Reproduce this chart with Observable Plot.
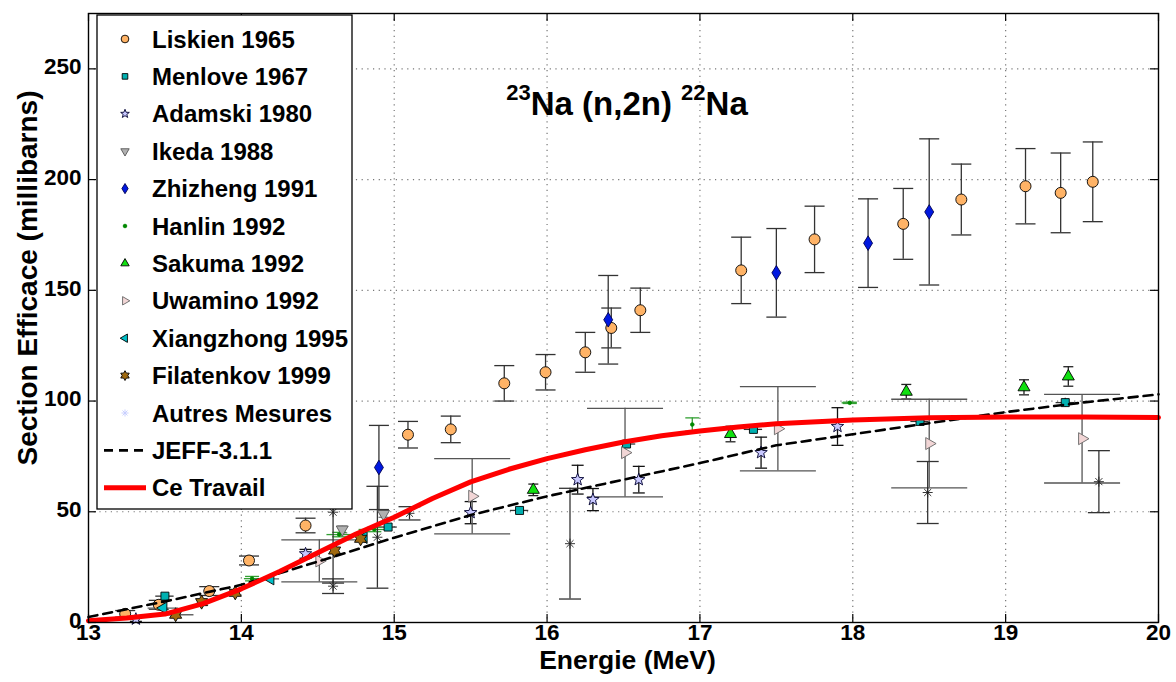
<!DOCTYPE html>
<html>
<head>
<meta charset="utf-8">
<script src="https://cdn.jsdelivr.net/npm/d3@7"></script>
<script src="https://cdn.jsdelivr.net/npm/@observablehq/plot@0.6"></script>
<style>
  body { margin: 0; background: #fff; }
  #chart svg { display: block; }
</style>
</head>
<body>
<div id="chart"></div>
<script>
// ---- Axis ticks ----
const energyTicks = [13, 14, 15, 16, 17, 18, 19, 20];
const sigmaTicks = [0, 50, 100, 150, 200, 250];

// ---- Measurements: [energy (MeV), cross section (mb), dy error, dx error] ----
const liskien1965 = [
  [13.24, 3.9, 1.5], [13.46, 8.0, 2], [13.79, 14.2, 2], [14.05, 28, 2], [14.42, 43.8, 3.3],
  [15.09, 84.8, 6], [15.37, 87.2, 6], [15.72, 108, 8], [15.99, 113, 8], [16.25, 122, 9],
  [16.42, 133, 9], [16.61, 141, 10], [17.27, 159, 15], [17.75, 173, 15], [18.33, 180, 16],
  [18.71, 191, 16], [19.13, 197, 17], [19.36, 194, 18], [19.57, 199, 18]
];
const menlove1967 = [
  [13.50, 11.9, 1.2, 0.06], [14.96, 43.1, 1.5, 0.06], [15.82, 50.6, 1.5, 0.06],
  [16.52, 80.6, 2, 0.06], [17.35, 87.2, 2, 0.06], [18.44, 90.8, 2, 0.06], [19.39, 99.3, 2, 0.06]
];
const adamski1980 = [
  [13.31, 1.5, 1], [14.42, 31, 2], [15.50, 49.6, 5], [16.20, 64.5, 6.5], [16.30, 55.5, 5],
  [16.60, 64.5, 6], [17.40, 76.7, 7], [17.90, 88.5, 8.5]
];
const ikeda1988 = [[14.66, 42, 1.5], [14.93, 49, 1.5]];
const zhizheng1991 = [
  [14.90, 70, 19], [16.40, 136.7, 20], [17.50, 157.9, 20], [18.10, 171.3, 20], [18.50, 185.4, 33]
];
const hanlin1992 = [
  [14.07, 19.8, 1, 0.05], [14.64, 39.7, 1, 0.08], [14.87, 42, 1, 0.1],
  [16.95, 89.4, 3, 0], [17.98, 99.2, 0.3, 0.05]
];
const sakuma1992 = [
  [15.91, 59.9, 2.6], [17.20, 85.1, 3.5], [18.35, 104.2, 3.3], [19.12, 106.2, 3.4], [19.41, 111.1, 4.4]
];
const uwamino1992 = [
  [14.51, 27.8, 9.5], [15.51, 57, 17], [16.51, 76.7, 20], [17.51, 87.5, 19], [18.50, 80.8, 20], [19.50, 83, 20]
];
const xiangzhong1995 = [[13.49, 6.5, 0, 0.1], [14.19, 19.7, 0, 0.06], [14.80, 38.4, 0]];
const filatenkov1999 = [[13.57, 3.5, 0, 0.12], [13.74, 9.2, 0], [13.96, 13.4, 0], [14.61, 32.5, 0], [14.78, 37.8, 0]];
const autresMesures = [
  [14.60, 16.4, 3.3], [14.60, 49.8, 32], [14.89, 38.5, 23], [15.10, 49.3, 3],
  [16.15, 35.6, 25], [18.49, 58.7, 14], [19.61, 63.6, 14]
];

// ---- Evaluations ----
const jeff311 = [
  [13.0, 2.5], [13.5, 9.5], [14.0, 17], [14.5, 27.5], [15.0, 38.3], [15.5, 48.5], [16.0, 57],
  [16.5, 64.5], [17.0, 72], [17.5, 80], [18.0, 85], [18.5, 90], [19.0, 95], [19.5, 99.3], [20.0, 103]
];
const ceTravail = [
  [13.0, 0.8], [13.25, 2.0], [13.5, 3.8], [13.75, 8.5], [14.0, 15.2], [14.25, 23], [14.5, 31.5],
  [14.75, 40], [15.0, 47.5], [15.25, 56], [15.5, 63.5], [15.75, 69.2], [16.0, 74], [16.25, 78],
  [16.5, 81.5], [16.75, 84.3], [17.0, 86.5], [17.25, 88.3], [17.5, 89.7], [18.0, 91.4],
  [18.5, 92.5], [19.0, 92.8], [19.5, 92.8], [20.0, 92.6]
];

// ---- Marker shapes (size = pi * r^2 as passed by Plot) ----
const rad = size => Math.sqrt(size / Math.PI);
const polygon = pts => ({
  draw(ctx, size) {
    const r = rad(size);
    pts.forEach(([px, py], i) => i ? ctx.lineTo(px * r, py * r) : ctx.moveTo(px * r, py * r));
    ctx.closePath();
  }
});
const starPts = (n, inner) => d3.range(2 * n).map(i => {
  const a = -Math.PI / 2 + i * Math.PI / n, k = i % 2 ? inner : 1;
  return [k * Math.cos(a), k * Math.sin(a)];
});
const circle = {
  draw(ctx, size) { const r = rad(size); ctx.moveTo(r, 0); ctx.arc(0, 0, r, 0, 2 * Math.PI); }
};
const triUp = polygon([[0, -1.15], [1, 0.58], [-1, 0.58]]);
const triDown = polygon([[0, 1.15], [-1, -0.58], [1, -0.58]]);
const triRight = polygon([[1.15, 0], [-0.58, -1], [-0.58, 1]]);
const triLeft = polygon([[-1.15, 0], [0.58, -1], [0.58, 1]]);
const diamond = polygon([[0, -1.3], [0.8, 0], [0, 1.3], [-0.8, 0]]);
const square = polygon([[-0.8, -0.8], [0.8, -0.8], [0.8, 0.8], [-0.8, 0.8]]);
const pentagram = polygon(starPts(5, 0.42));
const hexagram = polygon(starPts(6, 0.58));
const asterisk = {
  draw(ctx, size) {
    const r = rad(size);
    for (let i = 0; i < 4; ++i) {
      const a = i * Math.PI / 4;
      ctx.moveTo(-r * Math.cos(a), -r * Math.sin(a));
      ctx.lineTo(r * Math.cos(a), r * Math.sin(a));
    }
  }
};
const capLine = {
  draw(ctx, size) { const r = rad(size); ctx.moveTo(-r, 0); ctx.lineTo(r, 0); }
};

const rows = arr => arr.map(([x, y, e = 0, ex = 0]) => ({x, y, e, ex}));

// ---- Series styling ----
const series = [
  {name: "Liskien 1965", data: liskien1965, symbol: circle, r: 5.5, fill: "#ffb366", stroke: "#000", bar: "#333", cap: 10},
  {name: "Menlove 1967", data: menlove1967, symbol: square, r: 5, fill: "#00b0b0", stroke: "#000", bar: "#333", cap: 0},
  {name: "Adamski 1980", data: adamski1980, symbol: pentagram, r: 6.5, fill: "#c8c8ff", stroke: "#000030", bar: "#111", cap: 6},
  {name: "Ikeda 1988", data: ikeda1988, symbol: triDown, r: 6, fill: "#b0b0b0", stroke: "#555", bar: "#777", cap: 5},
  {name: "Zhizheng 1991", data: zhizheng1991, symbol: diamond, r: 5.6, fill: "#0018e0", stroke: "#000050", bar: "#333", cap: 10},
  {name: "Hanlin 1992", data: hanlin1992, symbol: circle, r: 1.8, fill: "#008800", stroke: "#008800", bar: "#33a033", cap: 7},
  {name: "Sakuma 1992", data: sakuma1992, symbol: triUp, r: 6, fill: "#10e010", stroke: "#000", bar: "#222", cap: 5},
  {name: "Uwamino 1992", data: uwamino1992, symbol: triRight, r: 6, fill: "#f2d6d6", stroke: "#666", bar: "#555", cap: 38},
  {name: "Xiangzhong 1995", data: xiangzhong1995, symbol: triLeft, r: 6, fill: "#00c0c8", stroke: "#000", bar: "#666", cap: 0},
  {name: "Filatenkov 1999", data: filatenkov1999, symbol: hexagram, r: 7, fill: "#a06a10", stroke: "#000", bar: "#666", cap: 0},
  {name: "Autres Mesures", data: autresMesures, symbol: asterisk, r: 5, fill: "none", stroke: "#222", bar: "#333", cap: 11,
   legendStroke: "#c4ccff"}
];

const marks = [];
// dotted grid
marks.push(Plot.ruleX(energyTicks.slice(1, -1), {stroke: "#777", strokeDasharray: "1.2,4.5", strokeWidth: 1.2}));
marks.push(Plot.ruleY(sigmaTicks.slice(1), {stroke: "#777", strokeDasharray: "1.2,4.5", strokeWidth: 1.2}));

// error bars
for (const s of series) {
  const d = rows(s.data);
  const withE = d.filter(p => p.e > 0);
  const withEx = d.filter(p => p.ex > 0);
  marks.push(Plot.ruleX(withE, {x: "x", y1: p => p.y - p.e, y2: p => p.y + p.e, stroke: s.bar, strokeWidth: 1.3}));
  if (s.cap > 0) {
    marks.push(Plot.dot(withE, {x: "x", y: p => p.y + p.e, symbol: capLine, r: s.cap, stroke: s.bar, fill: "none", strokeWidth: 1.3}));
    marks.push(Plot.dot(withE, {x: "x", y: p => p.y - p.e, symbol: capLine, r: s.cap, stroke: s.bar, fill: "none", strokeWidth: 1.3}));
  }
  marks.push(Plot.ruleY(withEx, {y: "y", x1: p => p.x - p.ex, x2: p => p.x + p.ex, stroke: s.bar, strokeWidth: 1.3}));
}
// markers
for (const s of series) {
  marks.push(Plot.dot(rows(s.data), {
    x: "x", y: "y", symbol: s.symbol, r: s.r, fill: s.fill, stroke: s.stroke, strokeWidth: 0.9
  }));
}
// evaluated curves
marks.push(Plot.line(jeff311, {x: d => d[0], y: d => d[1], stroke: "#000", strokeWidth: 2.6, strokeDasharray: "9,6"}));
marks.push(Plot.line(ceTravail, {x: d => d[0], y: d => d[1], stroke: "#ff0000", strokeWidth: 5}));

// inward ticks on all four sides
const W = 1176, H = 682, mL = 88, mR = 18, mT = 13, mB = 60;
const pw = W - mL - mR, ph = H - mT - mB;
marks.push(Plot.ruleX(energyTicks, {insetTop: ph - 8, stroke: "#000", strokeWidth: 1.2}));
marks.push(Plot.ruleX(energyTicks, {insetBottom: ph - 8, stroke: "#000", strokeWidth: 1.2}));
marks.push(Plot.ruleY(sigmaTicks, {insetRight: pw - 8, stroke: "#000", strokeWidth: 1.2}));
marks.push(Plot.ruleY(sigmaTicks, {insetLeft: pw - 8, stroke: "#000", strokeWidth: 1.2}));
marks.push(Plot.frame({stroke: "#000", strokeWidth: 1.4}));

// tick labels and x-axis title
const FONT = "Liberation Sans, Arial, sans-serif";
const bold = {fontWeight: "bold", fontFamily: FONT, fill: "#000"};
marks.push(Plot.text(energyTicks, {x: d => d, frameAnchor: "bottom", dy: 2, lineAnchor: "top", text: d => String(d), fontSize: 22.5, ...bold}));
marks.push(Plot.text(sigmaTicks, {y: d => d, frameAnchor: "left", dx: -7, dy: -2, textAnchor: "end", text: d => String(d), fontSize: 22.5, ...bold}));
marks.push(Plot.text(["Energie (MeV)"], {frameAnchor: "bottom", dy: 28, dx: 4, lineAnchor: "top", text: d => d, fontSize: 26.5, ...bold}));

const svg = Plot.plot({
  width: W, height: H,
  marginLeft: mL, marginRight: mR, marginTop: mT, marginBottom: mB,
  x: {domain: [13, 20], axis: null},
  y: {domain: [0, 275], axis: null},
  style: {background: "#fff", overflow: "visible"},
  marks
});
document.getElementById("chart").appendChild(svg);

const root = d3.select(svg);

// ---- y-axis title ----
root.append("text")
  .attr("transform", "translate(37,278) rotate(-90)")
  .attr("text-anchor", "middle")
  .attr("font-family", FONT).attr("font-weight", "bold").attr("font-size", 28).attr("fill", "#000")
  .text("Section Efficace (millibarns)");

// ---- Reaction title with mass-number superscripts ----
const title = root.append("text")
  .attr("x", 627).attr("y", 115)
  .attr("text-anchor", "middle")
  .attr("font-family", FONT)
  .attr("font-weight", "bold").attr("font-size", 33).attr("fill", "#000");
title.append("tspan").attr("font-size", 22).attr("dy", -15).text("23");
title.append("tspan").attr("dy", 15).text("Na (n,2n) ");
title.append("tspan").attr("font-size", 22).attr("dy", -15).text("22");
title.append("tspan").attr("dy", 15).text("Na");

// ---- Legend box ----
const lg = root.append("g");
lg.append("rect").attr("x", 97).attr("y", 15).attr("width", 255).attr("height", 494)
  .attr("fill", "#fff").attr("stroke", "#000").attr("stroke-width", 1.3);
const legendRows = [
  ...series.map(s => ({label: s.name, s})),
  {label: "JEFF-3.1.1", line: {stroke: "#000", width: 2.6, dash: "9,6"}},
  {label: "Ce Travail", line: {stroke: "#ff0000", width: 5, dash: null}}
];
legendRows.forEach((row, i) => {
  const cy = 39 + i * 37.4;
  if (row.s) {
    const s = row.s;
    const r = Math.max(s.r * 0.7, 1.8);
    lg.append("path")
      .attr("transform", `translate(125,${cy})`)
      .attr("d", d3.symbol().type(s.symbol).size(Math.PI * r * r)())
      .attr("fill", s.fill).attr("stroke", s.legendStroke || s.stroke).attr("stroke-width", 0.9);
  } else {
    lg.append("line").attr("x1", 104).attr("x2", 146).attr("y1", cy).attr("y2", cy)
      .attr("stroke", row.line.stroke).attr("stroke-width", row.line.width)
      .attr("stroke-dasharray", row.line.dash);
  }
  lg.append("text").attr("x", 152).attr("y", cy).attr("dy", "0.36em")
    .attr("text-anchor", "start")
    .attr("font-family", FONT)
    .attr("font-weight", "bold").attr("font-size", 24).attr("fill", "#000")
    .text(row.label);
});
</script>
</body>
</html>
